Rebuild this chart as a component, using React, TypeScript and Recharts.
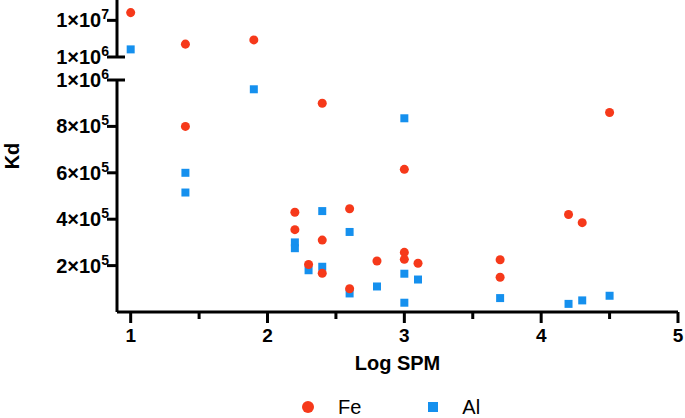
import React from "react";
import { ScatterChart, Scatter, XAxis, YAxis, ZAxis, Legend, Label } from "recharts";

// Log SPM vs Kd, two metals; y axis is broken at 1e6
const feSpm = [1, 1.4, 1.9, 1.4, 2.4, 4.5, 3.0, 2.2, 2.2, 2.4, 2.6, 4.2, 4.3, 2.3, 2.4, 2.6, 2.8, 3.0, 3.0, 3.1, 3.7, 3.7];
const feKd = [1.19e7, 4.16e6, 5.2e6, 8.0e5, 9.0e5, 8.6e5, 6.15e5, 4.3e5, 3.55e5, 3.1e5, 4.45e5, 4.2e5, 3.85e5, 2.05e5, 1.67e5, 1.0e5, 2.2e5, 2.57e5, 2.27e5, 2.1e5, 2.25e5, 1.5e5];

const alSpm = [1, 1.4, 1.4, 1.9, 3.0, 2.4, 2.6, 2.2, 2.2, 2.3, 2.4, 2.6, 2.8, 3.0, 3.0, 3.1, 3.7, 4.2, 4.3, 4.5];
const alKd = [2.87e6, 6.0e5, 5.15e5, 9.6e5, 8.35e5, 4.35e5, 3.45e5, 3.0e5, 2.75e5, 1.8e5, 1.95e5, 8e4, 1.1e5, 1.65e5, 4e4, 1.4e5, 6e4, 3.5e4, 5e4, 7e4];

const xTicks = [1, 1.5, 2, 2.5, 3, 3.5, 4, 4.5, 5];
const lowTicks = [2e5, 4e5, 6e5, 8e5, 1e6];
const highTicks = [1e6, 1e7];

const BREAK = 1e6;
const FE = "#F6391A";
const AL = "#1590EE";
const FONT = "'Liberation Sans', Arial, sans-serif";

const fe = feSpm.map((x, i) => ({ x, y: feKd[i] }));
const al = alSpm.map((x, i) => ({ x, y: alKd[i] }));
const feLow = fe.filter((d) => d.y <= BREAK);
const feHigh = fe.filter((d) => d.y > BREAK);
const alLow = al.filter((d) => d.y <= BREAK);
const alHigh = al.filter((d) => d.y > BREAK);

const sci = (v: number) => {
  const e = Math.floor(Math.log10(v) + 1e-9);
  return [Math.round(v / Math.pow(10, e)), e];
};

function YTick(props: any) {
  const { x, y, payload } = props;
  const [m, e] = sci(payload.value);
  const cap = payload.value === BREAK;
  return (
    <g>
      <line x1={x - 10} x2={cap ? x + 8 : x} y1={y} y2={y} stroke="#000" strokeWidth={3} />
      <text x={x - 8} y={y + 7} textAnchor="end" fontSize={20} fontWeight="bold" fontFamily={FONT} fill="#000">
        <tspan>{m}×10</tspan>
        <tspan dy={-8} fontSize={14}>{e}</tspan>
      </text>
    </g>
  );
}

function XTick(props: any) {
  const { x, y, payload } = props;
  const major = Number.isInteger(payload.value);
  return (
    <g>
      <line x1={x} x2={x} y1={y} y2={y + (major ? 11 : 7)} stroke="#000" strokeWidth={3} />
      {major && (
        <text x={x} y={y + 30} textAnchor="middle" fontSize={19} fontWeight="bold" fontFamily={FONT} fill="#000">
          {payload.value}
        </text>
      )}
    </g>
  );
}

function LegendBox() {
  return (
    <div style={{ display: "flex", alignItems: "center", height: 20, lineHeight: "20px", paddingLeft: 302, fontFamily: FONT, fontSize: 20 }}>
      <svg width={12} height={12} style={{ marginRight: 24 }}>
        <circle cx={6} cy={6} r={6} fill={FE} />
      </svg>
      <span style={{ marginRight: 67 }}>Fe</span>
      <svg width={10} height={10} style={{ marginRight: 24 }}>
        <rect width={10} height={10} fill={AL} />
      </svg>
      <span>Al</span>
    </div>
  );
}

const axisLine = { stroke: "#000", strokeWidth: 3 };

export default function App() {
  return (
    <div style={{ position: "relative", width: 685, height: 418, background: "#fff" }}>
      <style>{"body{margin:0}"}</style>
      <ScatterChart width={685} height={418} margin={{ top: 80, right: 7, bottom: 61, left: 0 }}>
        <XAxis
          type="number"
          dataKey="x"
          domain={[0.9, 5]}
          ticks={xTicks}
          interval={0}
          tickSize={0}
          tickMargin={0}
          tickLine={false}
          axisLine={axisLine}
          tick={(p: any) => <XTick {...p} />}
          height={45}
        >
          <Label
            value="Log SPM"
            position="bottom"
            offset={-1}
            style={{ fontSize: 20, fontWeight: "bold", fontFamily: FONT, fill: "#000" }}
          />
        </XAxis>
        <YAxis
          type="number"
          dataKey="y"
          domain={[0, 1e6]}
          ticks={lowTicks}
          interval={0}
          tickSize={0}
          tickMargin={0}
          tickLine={false}
          axisLine={axisLine}
          tick={(p: any) => <YTick {...p} />}
          width={117}
        >
          <Label
            content={() => (
              <text
                x={12}
                y={156}
                transform="rotate(-90 12 156)"
                textAnchor="middle"
                dominantBaseline="central"
                fontSize={20}
                fontWeight="bold"
                fontFamily={FONT}
                fill="#000"
              >
                Kd
              </text>
            )}
          />
        </YAxis>
        <ZAxis range={[113, 113]} />
        <Legend
          layout="horizontal"
          verticalAlign="middle"
          align="center"
          wrapperStyle={{ top: 397, left: 0, width: 685 }}
          content={() => <LegendBox />}
        />
        <Scatter name="Al" data={alLow} fill={AL} shape="square" isAnimationActive={false} />
        <Scatter name="Fe" data={feLow} fill={FE} shape="circle" isAnimationActive={false} />
      </ScatterChart>

      <div style={{ position: "absolute", top: 0, left: 0 }}>
        <ScatterChart width={685} height={70} margin={{ top: 0, right: 7, bottom: 13, left: 0 }}>
          <XAxis type="number" dataKey="x" domain={[0.9, 5]} hide />
          <YAxis
            type="number"
            dataKey="y"
            domain={[1e6, 1.5e7]}
            ticks={highTicks}
            interval={0}
            allowDataOverflow
            tickSize={0}
            tickMargin={0}
            tickLine={false}
            axisLine={axisLine}
            tick={(p: any) => <YTick {...p} />}
            width={117}
          />
          <ZAxis range={[113, 113]} />
          <Scatter name="Al" data={alHigh} fill={AL} shape="square" isAnimationActive={false} />
          <Scatter name="Fe" data={feHigh} fill={FE} shape="circle" isAnimationActive={false} />
        </ScatterChart>
      </div>
    </div>
  );
}
